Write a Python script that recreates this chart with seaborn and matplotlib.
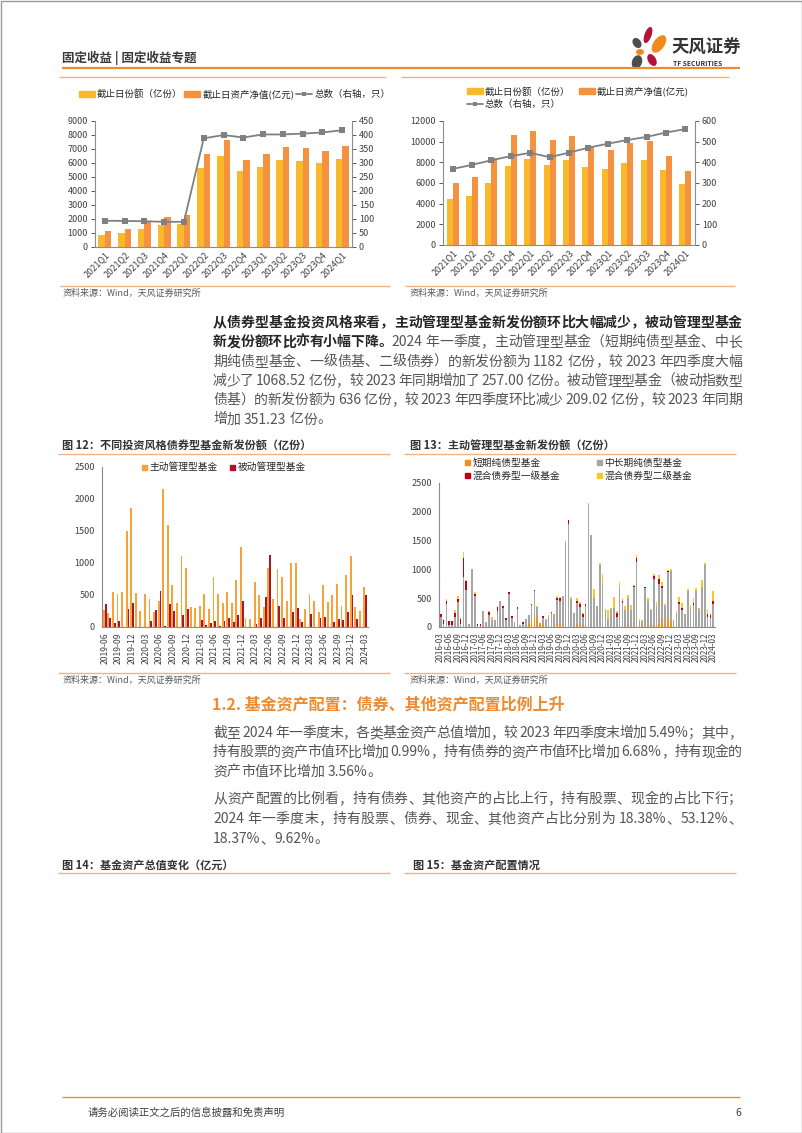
import matplotlib
matplotlib.use('Agg')
import matplotlib.pyplot as plt
import matplotlib.patches as mpatches
from matplotlib.lines import Line2D
from matplotlib.font_manager import FontProperties
import numpy as np
import pandas as pd
import seaborn as sns

sns.set_style('white')
FAM = ['Noto Sans CJK SC', 'DejaVu Sans']
plt.rcParams['font.family'] = FAM
plt.rcParams['axes.unicode_minus'] = False

# ---------------- data ----------------
quarters = ['2021Q1', '2021Q2', '2021Q3', '2021Q4', '2022Q1', '2022Q2', '2022Q3',
            '2022Q4', '2023Q1', '2023Q2', '2023Q3', '2023Q4', '2024Q1']
tl_share = [880, 1030, 1265, 1600, 1670, 5660, 6490, 5420, 5750, 6210, 6140, 6020, 6280]
tl_nav = [1120, 1310, 1790, 2150, 2270, 6660, 7640, 6210, 6610, 7110, 7040, 6850, 7230]
tl_count = [94, 93, 92, 90, 90, 388, 400, 391, 402, 402, 405, 409, 417]
tr_share = [4410, 4730, 6015, 7660, 8365, 7750, 8270, 7560, 7400, 7980, 8200, 7240, 5950]
tr_nav = [6015, 6595, 8430, 10680, 11000, 10200, 10520, 9555, 9230, 9880, 10040, 8590, 7140]
tr_count = [368, 388, 410, 430, 446, 425, 447, 471, 490, 508, 523, 544, 561]

lab_share = '截止日份额（亿份）'
lab_nav = '截止日资产净值(亿元)'
lab_count = '总数（右轴，只）'

months12 = list(pd.period_range('2019-06', '2024-03', freq='M').strftime('%Y-%m'))
active12 = [265, 225, 540, 515, 545, 1500, 1860,
            525, 245, 510, 430, 240, 405, 2160, 1590, 655, 370, 1115, 925,
            315, 300, 335, 515, 280, 775, 510, 370, 550, 380, 735, 1245,
            135, 125, 700, 500, 310, 915, 430, 900, 780, 405, 995, 1005,
            125, 280, 515, 410, 230, 655, 385, 505, 670, 330, 820, 1105,
            305, 250, 625]
passive12 = [355, 135, 60, 100, 0, 280, 370,
             0, 0, 5, 100, 270, 555, 20, 365, 245, 0, 180, 280,
             0, 0, 110, 25, 55, 95, 15, 95, 135, 80, 185, 400,
             0, 0, 40, 135, 475, 1125, 0, 335, 145, 0, 235, 295,
             80, 0, 205, 0, 135, 155, 0, 80, 120, 110, 230, 505,
             130, 0, 505]
lab_active = '主动管理型基金'
lab_passive = '被动管理型基金'

months13 = list(pd.period_range('2016-03', '2024-03', freq='M').strftime('%Y-%m'))
short13 = ([0] * 30 +
           [20, 60, 150, 200, 150, 40, 50, 0, 0] +
           [0, 0, 60, 50, 0, 0, 0, 0, 0, 50, 0, 30, 40, 0, 0, 0, 0, 0, 0] +
           [0, 0, 0, 0, 0, 0, 0, 0, 30, 0, 0, 0] +
           [40, 20, 0, 0, 30, 30, 20, 60, 150, 20, 150, 100] +
           [20, 0, 0, 0, 0, 0, 0, 0, 0, 0, 0, 0, 0, 0, 0])
mid13 = ([180, 60, 400, 40, 40, 180, 440, 60, 870, 650] +
         [60, 1000, 530, 20, 10, 270, 90, 200, 130, 120] +
         [280, 450, 330, 130, 570, 150, 80, 320, 30, 60] +
         [120, 150, 230, 420, 200, 30, 110, 130, 180] +
         [240, 225, 410, 400, 545, 1470, 1780, 490, 235, 360, 340, 150, 320, 2120, 1590, 510, 360, 1080, 770] +
         [295, 140, 305, 330, 180, 670, 420, 290, 480, 300, 700, 1120] +
         [60, 80, 680, 450, 260, 810, 350, 690, 520, 350, 800, 880] +
         [100, 250, 400, 300, 220, 630, 320, 380, 620, 320, 700, 1080, 170, 160, 400])
mix1_13 = ([40, 60, 50, 60, 60, 70, 40, 80, 330, 150] +
           [0, 10, 40, 40, 50, 0, 0, 60, 0, 0] +
           [60, 0, 40, 30, 30, 40, 0, 30, 0, 20] +
           [0, 0, 20, 20, 0, 0, 30, 0, 0] +
           [25, 0, 30, 45, 0, 0, 80, 0, 0, 50, 65, 40, 35, 0, 0, 0, 0, 0, 0] +
           [0, 0, 0, 0, 70, 0, 40, 0, 0, 0, 10, 80] +
           [0, 0, 10, 0, 0, 40, 0, 90, 40, 0, 25, 0] +
           [0, 0, 40, 30, 0, 0, 0, 30, 0, 0, 0, 0, 50, 50, 50])
mix2_13 = ([10, 20, 40, 10, 0, 40, 60, 40, 100, 20] +
           [0, 0, 40, 0, 0, 10, 0, 20, 50, 0] +
           [20, 0, 0, 0, 0, 0, 0, 0, 0, 0] +
           [0, 0, 0, 0, 20, 0, 0, 10, 20] +
           [0, 0, 40, 20, 0, 30, 0, 35, 10, 50, 25, 20, 10, 40, 0, 145, 10, 35, 155] +
           [20, 160, 30, 185, 30, 105, 50, 80, 40, 80, 25, 45] +
           [35, 25, 10, 50, 20, 35, 60, 60, 70, 35, 20, 25] +
           [5, 30, 75, 80, 10, 25, 65, 95, 50, 10, 120, 25, 85, 40, 175])
labs13 = ['短期纯债型基金', '中长期纯债型基金', '混合债券型一级基金', '混合债券型二级基金']

# ---------------- colours ----------------
C_Y, C_O, C_LINE = '#FAB92A', '#F6923F', '#808080'
C_ACT, C_PAS = '#F6A33B', '#B0132E'
C13 = ['#F39019', '#A6A6A6', '#C00018', '#FFC526']
ORANGE = '#EE8A2F'
LIGHT = '#F4B183'
TXT = '#404040'
BODYC = '#555555'
SPINE = '#8C8C8C'

# ---------------- figure ----------------
W, H = 802, 1133
fig = plt.figure(figsize=(W / 100, H / 100), dpi=100)
fig.patch.set_facecolor('white')
page = fig.add_axes([0, 0, 1, 1])
page.set_xlim(0, W)
page.set_ylim(H, 0)
page.axis('off')


def rect(x1, y1, x2, y2):
    return [x1 / W, 1 - y2 / H, (x2 - x1) / W, (y2 - y1) / H]


def pt(x, y, s, size, color=TXT, weight='normal', ha='left', va='center', **kw):
    page.text(x, y, s, fontsize=size, color=color, fontweight=weight, ha=ha, va=va, **kw)


def hline(x1, x2, y, color=LIGHT, lw=1.0):
    page.plot([x1, x2], [y, y], color=color, lw=lw, solid_capstyle='butt')


# page border
page.add_patch(mpatches.Rectangle((0.5, 0.5), W - 1, H - 1, fill=False, ec='#9A9A9A', lw=1))

# header
pt(62, 58, '固定收益 | 固定收益专题', 9, '#3A3A3A', 'bold')
hline(62, 740, 68, ORANGE, 1.6)
# logo
petals = [((648, 35), 7, 17, 20, '#B5123A'), ((637, 43), 8, 11, -35, '#4D4D4D'),
          ((659, 44), 11, 20, 35, '#F08A1C'), ((640, 52), 8, 6, 0, '#F08A1C'),
          ((637, 62), 10, 14, 20, '#4D4D4D'), ((652, 60), 8, 13, -30, '#B5123A')]
for c, w_, h_, a, col in petals:
    page.add_patch(mpatches.Ellipse(c, w_, h_, angle=a, color=col, lw=0))
pt(672, 48, '天风证券', 12.5, '#333333', 'bold')
pt(673, 63, 'TF SECURITIES', 4.8, '#333333', 'bold')

# frame lines top charts
hline(59, 386, 77)
hline(401, 729, 77)


def style_ax(ax, right_ax=None):
    ax.spines['top'].set_visible(False)
    ax.spines['right'].set_visible(False)
    for s in ['left', 'bottom']:
        ax.spines[s].set_color(SPINE)
        ax.spines[s].set_linewidth(0.8)
    ax.tick_params(axis='y', labelsize=6.5, colors=TXT, length=3, width=0.6, pad=2)
    ax.tick_params(axis='x', labelsize=6.5, colors=TXT, length=0, pad=2)
    ax.set_xlabel('')
    ax.set_ylabel('')
    ax.set_facecolor('none')
    if right_ax is not None:
        for s in ['top', 'left', 'bottom']:
            right_ax.spines[s].set_visible(False)
        right_ax.spines['right'].set_color(SPINE)
        right_ax.spines['right'].set_linewidth(0.8)
        right_ax.tick_params(axis='y', labelsize=6.5, colors=TXT, length=3, width=0.6, pad=2)
        right_ax.set_ylabel('')


def top_chart(box, share, nav, count, ymax, ystep, rmax, rstep, width):
    ax = fig.add_axes(rect(*box))
    df = pd.DataFrame({'q': quarters * 2, 'v': share + nav,
                       's': [lab_share] * len(quarters) + [lab_nav] * len(quarters)})
    sns.barplot(data=df, x='q', y='v', hue='s', order=quarters, hue_order=[lab_share, lab_nav],
                palette=[C_Y, C_O], saturation=1, width=width, errorbar=None, legend=False,
                linewidth=0, ax=ax)
    ax2 = ax.twinx()
    sns.lineplot(x=np.arange(len(quarters)), y=count, ax=ax2, color=C_LINE, marker='s',
                 markersize=4, markeredgewidth=0, linewidth=1.3, legend=False)
    ax.set_ylim(0, ymax)
    ax.set_yticks(np.arange(0, ymax + 1, ystep))
    ax2.set_ylim(0, rmax)
    ax2.set_yticks(np.arange(0, rmax + 1, rstep))
    ax.set_xlim(-0.5, len(quarters) - 0.5)
    ax.set_xticks(range(len(quarters)))
    ax.set_xticklabels(quarters, rotation=45, ha='right', rotation_mode='anchor')
    style_ax(ax, ax2)
    return ax


h_share = mpatches.Patch(color=C_Y, label=lab_share)
h_nav = mpatches.Patch(color=C_O, label=lab_nav)
h_cnt = Line2D([], [], color=C_LINE, marker='s', markersize=3.5, markeredgewidth=0, lw=1.3,
               label=lab_count)

axA = top_chart((95, 121, 352, 247), tl_share, tl_nav, tl_count, 9000, 1000, 450, 50, 0.66)
axA.legend(handles=[h_share, h_nav, h_cnt], loc='center left', ncol=3,
           bbox_to_anchor=(79 / W, 1 - 94 / H), bbox_transform=fig.transFigure,
           frameon=False, fontsize=6.8, handlelength=1.7, handleheight=0.6,
           handletextpad=0.2, columnspacing=0.2, borderpad=0, borderaxespad=0)

axB = top_chart((443, 121, 695, 245), tr_share, tr_nav, tr_count, 12000, 2000, 600, 100, 0.62)
axB.legend(handles=[h_share, h_cnt, h_nav], loc='center left', ncol=2,
           bbox_to_anchor=(467 / W, 1 - 98 / H), bbox_transform=fig.transFigure,
           frameon=False, fontsize=6.8, handlelength=1.7, handleheight=0.6,
           handletextpad=0.2, columnspacing=0.9, labelspacing=0.35, borderpad=0, borderaxespad=0)

# sources top charts
hline(60, 390, 286)
hline(405, 735, 286)
pt(63, 293, '资料来源：Wind，天风证券研究所', 6.5, '#595959')
pt(410, 293, '资料来源：Wind，天风证券研究所', 6.5, '#595959')

# ---------------- body text with justification ----------------
renderer = fig.canvas.get_renderer()
BODY = 10
fp_n = FontProperties(family=FAM, size=BODY)
fp_b = FontProperties(family=FAM, size=BODY, weight='bold')


def tw(s, fp):
    return renderer.get_text_width_height_descent(s, fp, ismath=False)[0]


def tokenize(s, nbold):
    toks = []
    buf, bbold = '', False
    for i, ch in enumerate(s):
        b = i < nbold
        if ch == ' ':
            if buf:
                toks.append((buf, bbold)); buf = ''
            toks.append((' ', b))
        elif ord(ch) < 128:
            if buf and bbold != b:
                toks.append((buf, bbold)); buf = ''
            buf += ch
            bbold = b
        else:
            if buf:
                toks.append((buf, bbold)); buf = ''
            toks.append((ch, b))
    if buf:
        toks.append((buf, bbold))
    return toks


def body_line(y, s, justify=True, nbold=0, x0=213, x1=742):
    toks = tokenize(s, nbold)
    widths = []
    for t, b in toks:
        fp = fp_b if b else fp_n
        if t == ' ':
            widths.append(tw('x x', fp) - tw('xx', fp))
        else:
            widths.append(tw(t, fp))
    extra = 0.0
    if justify and len(toks) > 1:
        extra = (x1 - x0 - sum(widths)) / (len(toks) - 1)
    x = x0
    for (t, b), w_ in zip(toks, widths):
        if t != ' ':
            page.text(x, y, t, fontsize=BODY, color='#262626' if b else BODYC,
                      fontweight='bold' if b else 'normal', ha='left', va='center')
        x += w_ + extra


para1 = ['从债券型基金投资风格来看，主动管理型基金新发份额环比大幅减少，被动管理型基金',
         '新发份额环比亦有小幅下降。2024 年一季度，主动管理型基金（短期纯债型基金、中长',
         '期纯债型基金、一级债基、二级债券）的新发份额为 1182 亿份，较 2023 年四季度大幅',
         '减少了 1068.52 亿份，较 2023 年同期增加了 257.00 亿份。被动管理型基金（被动指数型',
         '债基）的新发份额为 636 亿份，较 2023 年四季度环比减少 209.02 亿份，较 2023 年同期',
         '增加 351.23 亿份。']
bolds1 = [len(para1[0]), 13, 0, 0, 0, 0]
for i, (line, nb) in enumerate(zip(para1, bolds1)):
    body_line(323 + 19.3 * i, line, justify=(i < len(para1) - 1), nbold=nb)

# ---------------- figure 12 ----------------
pt(62, 445, '图 12：不同投资风格债券型基金新发份额（亿份）', 8, '#333333', 'bold')
hline(58, 390, 454)
ax12 = fig.add_axes(rect(102, 467, 368, 627))
df12 = pd.DataFrame({'m': months12 * 2, 'v': active12 + passive12,
                     's': [lab_active] * len(months12) + [lab_passive] * len(months12)})
sns.barplot(data=df12, x='m', y='v', hue='s', order=months12, hue_order=[lab_active, lab_passive],
            palette=[C_ACT, C_PAS], saturation=1, width=0.8, errorbar=None, legend=False,
            linewidth=0, ax=ax12)
ax12.set_ylim(0, 2500)
ax12.set_yticks(np.arange(0, 2501, 500))
ax12.set_xlim(-0.6, len(months12) - 0.4)
ax12.set_xticks(range(0, len(months12), 3))
ax12.set_xticklabels(months12[::3], rotation=90)
style_ax(ax12)
ax12.tick_params(axis='x', labelsize=6.2, length=2, width=0.5, color=SPINE)
ax12.legend(handles=[Line2D([], [], color=C_ACT, marker='s', ls='none', markersize=3.6, label=lab_active),
                     Line2D([], [], color=C_PAS, marker='s', ls='none', markersize=3.6, label=lab_passive)],
            loc='center left', ncol=2, bbox_to_anchor=(141 / W, 1 - 467 / H),
            bbox_transform=fig.transFigure, frameon=False, fontsize=7, handlelength=0.7,
            handletextpad=0.2, columnspacing=1.1, borderpad=0, borderaxespad=0)
hline(58, 390, 673)
pt(63, 680, '资料来源：Wind，天风证券研究所', 6.5, '#595959')

# ---------------- figure 13 ----------------
pt(410, 445, '图 13：主动管理型基金新发份额（亿份）', 8, '#333333', 'bold')
hline(404, 736, 454)
ax13 = fig.add_axes(rect(439, 483, 715, 627))
layers = [short13, mid13, mix1_13, mix2_13]
cum = np.cumsum(np.array(layers, dtype=float), axis=0)
for k in range(3, -1, -1):
    sns.barplot(x=months13, y=cum[k], order=months13, color=C13[k], saturation=1, width=0.6,
                errorbar=None, linewidth=0, ax=ax13)
ax13.set_ylim(0, 2500)
ax13.set_yticks(np.arange(0, 2501, 500))
ax13.set_xlim(-0.6, len(months13) - 0.4)
ax13.set_xticks(range(0, len(months13), 3))
ax13.set_xticklabels(months13[::3], rotation=90)
style_ax(ax13)
ax13.tick_params(axis='x', labelsize=5.8, length=2, width=0.5, color=SPINE)
h13 = [Line2D([], [], color=C13[k], marker='s', ls='none', markersize=3.6, label=labs13[k]) for k in range(4)]
ax13.legend(handles=[h13[0], h13[2], h13[1], h13[3]], loc='center left', ncol=2,
            bbox_to_anchor=(464 / W, 1 - 469 / H), bbox_transform=fig.transFigure,
            frameon=False, fontsize=7, handlelength=0.7, handletextpad=0.2,
            columnspacing=3.6, labelspacing=0.3, borderpad=0, borderaxespad=0)
hline(404, 736, 673)
pt(410, 680, '资料来源：Wind，天风证券研究所', 6.5, '#595959')

# ---------------- section 1.2 ----------------
pt(212, 704, '1.2. 基金资产配置：债券、其他资产配置比例上升', 11.5, ORANGE, 'bold')
para2 = ['截至 2024 年一季度末，各类基金资产总值增加，较 2023 年四季度末增加 5.49%；其中，',
         '持有股票的资产市值环比增加 0.99%，持有债券的资产市值环比增加 6.68%，持有现金的',
         '资产市值环比增加 3.56%。']
for i, line in enumerate(para2):
    body_line(733 + 19.3 * i, line, justify=(i < 2))
para3 = ['从资产配置的比例看，持有债券、其他资产的占比上行，持有股票、现金的占比下行；',
         '2024 年一季度末，持有股票、债券、现金、其他资产占比分别为 18.38%、53.12%、',
         '18.37%、9.62%。']
for i, line in enumerate(para3):
    body_line(799 + 20 * i, line, justify=(i < 2))

pt(62, 865, '图 14：基金资产总值变化（亿元）', 8, '#333333', 'bold')
hline(58, 390, 873)
pt(413, 865, '图 15：基金资产配置情况', 8, '#333333', 'bold')
hline(404, 736, 873)

# footer
hline(62, 740, 1097, ORANGE, 1.0)
pt(88, 1113, '请务必阅读正文之后的信息披露和免责声明', 7.5, TXT)
pt(738, 1113, '6', 7.5, TXT, ha='center')

fig.savefig('out.png', dpi=100, facecolor='white')
